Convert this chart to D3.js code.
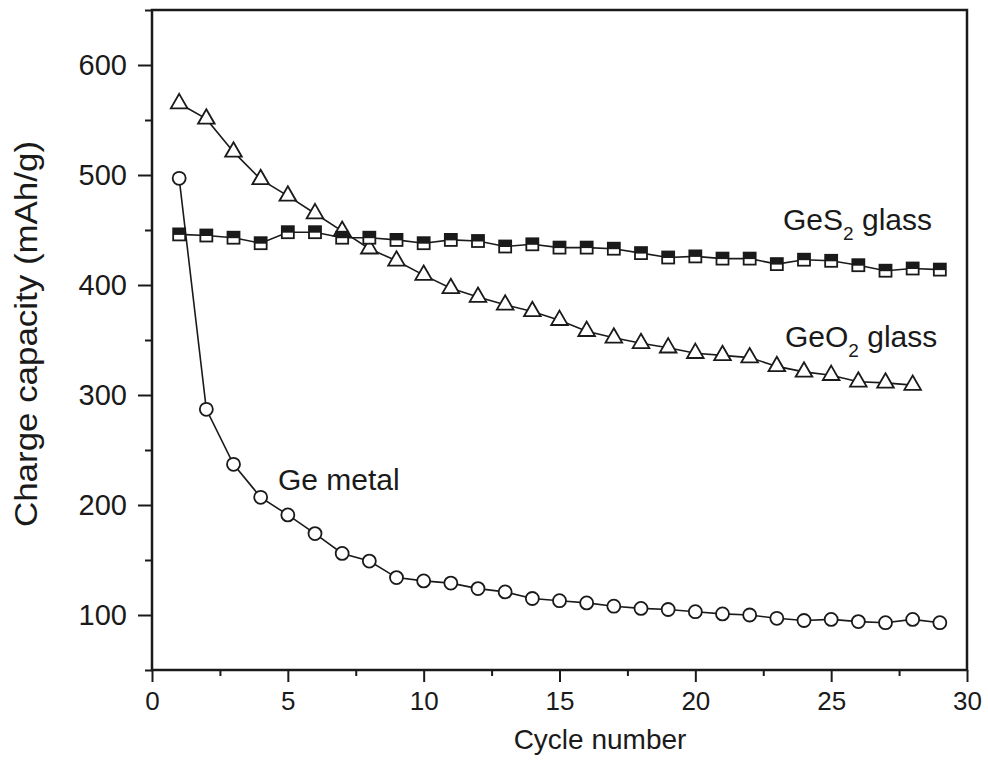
<!DOCTYPE html>
<html>
<head>
<meta charset="utf-8">
<script src="https://cdn.jsdelivr.net/npm/d3@7"></script>
<style>
  body { margin: 0; background: #fff; }
  text { font-family: "Liberation Sans", Arial, sans-serif; fill: #1a1a1a; }
</style>
</head>
<body>
<script>
// cycle numbers
const cycles = d3.range(1, 30);

// charge capacity (mAh/g)
const gemetal = [497, 287, 237, 207, 191, 174, 156, 149, 134, 131, 129, 124, 121, 115, 113,
  111, 108, 106, 105, 103, 101, 100, 97, 95, 96, 94, 93, 96, 93];
const geo2 = [565, 551, 521, 496, 481, 465, 449, 433, 422, 409, 397, 389, 382, 376, 368,
  358, 352, 347, 343, 338, 336, 334, 326, 321, 318, 312, 311, 309];
const ges2 = [446, 445, 443, 438, 448, 448, 443, 443, 441, 438, 441, 440, 435, 437, 434,
  434, 433, 429, 425, 426, 424, 424, 419, 423, 422, 418, 413, 415, 414];

const xTicks = [0, 5, 10, 15, 20, 25, 30];
const yTicks = [100, 200, 300, 400, 500, 600];

const width = 988, height = 762;
const margin = {left: 152, right: 21, top: 10, bottom: 92};

const svg = d3.select("body").append("svg")
  .attr("width", width)
  .attr("height", height);

const x = d3.scaleLinear().domain([0, 30]).range([margin.left, width - margin.right]);
const y = d3.scaleLinear().domain([50, 650]).range([height - margin.bottom, margin.top]);

const ink = "#1a1a1a";

// frame
svg.append("rect")
  .attr("x", x(0)).attr("y", y(650))
  .attr("width", x(30) - x(0)).attr("height", y(50) - y(650))
  .attr("fill", "none").attr("stroke", ink).attr("stroke-width", 2.5);

// x axis
const xAxis = svg.append("g")
  .attr("transform", `translate(0,${y(50)})`)
  .call(d3.axisBottom(x).tickValues(d3.range(0, 30.1, 2.5))
    .tickSize(12).tickPadding(10)
    .tickFormat(d => xTicks.includes(d) ? d : ""));
xAxis.select(".domain").remove();
xAxis.selectAll(".tick line")
  .attr("stroke", ink).attr("stroke-width", 2)
  .attr("y2", d => xTicks.includes(d) ? 12 : 6);
xAxis.selectAll(".tick text")
  .attr("font-size", 26).attr("font-family", "Liberation Sans, Arial, sans-serif")
  .attr("fill", ink);

// y axis
const yAxis = svg.append("g")
  .attr("transform", `translate(${x(0)},0)`)
  .call(d3.axisLeft(y).tickValues(d3.range(50, 651, 50))
    .tickSize(14).tickPadding(11)
    .tickFormat(d => yTicks.includes(d) ? d : ""));
yAxis.select(".domain").remove();
yAxis.selectAll(".tick line")
  .attr("stroke", ink).attr("stroke-width", 2)
  .attr("x2", d => yTicks.includes(d) ? -14 : -7);
yAxis.selectAll(".tick text")
  .attr("font-size", 29).attr("font-family", "Liberation Sans, Arial, sans-serif")
  .attr("fill", ink);

// axis titles
svg.append("text")
  .attr("x", 600).attr("y", 749)
  .attr("text-anchor", "middle").attr("font-size", 28)
  .text("Cycle number");

svg.append("text")
  .attr("transform", `translate(37,334) rotate(-90)`)
  .attr("text-anchor", "middle").attr("font-size", 32)
  .attr("textLength", 386).attr("lengthAdjust", "spacingAndGlyphs")
  .text("Charge capacity (mAh/g)");

// lines
const line = d3.line().x(d => x(d[0])).y(d => y(d[1]));
const series = [
  {name: "metal", vals: gemetal},
  {name: "geo2", vals: geo2},
  {name: "ges2", vals: ges2}
];
series.forEach(s => {
  svg.append("path")
    .datum(s.vals.map((v, i) => [cycles[i], v]))
    .attr("d", line)
    .attr("fill", "none").attr("stroke", ink).attr("stroke-width", 1.6);
});

// markers: circles
svg.append("g").selectAll("circle")
  .data(gemetal)
  .enter().append("circle")
  .attr("cx", (d, i) => x(cycles[i]))
  .attr("cy", d => y(d))
  .attr("r", 6.5)
  .attr("fill", "#fff").attr("stroke", ink).attr("stroke-width", 1.8);

// markers: triangles
const tri = d3.symbol().type(d3.symbolTriangle).size(120);
svg.append("g").selectAll("path")
  .data(geo2)
  .enter().append("path")
  .attr("d", tri)
  .attr("transform", (d, i) => `translate(${x(cycles[i])},${y(d)})`)
  .attr("fill", "#fff").attr("stroke", ink).attr("stroke-width", 1.8);

// markers: half filled squares
const sq = svg.append("g").selectAll("g")
  .data(ges2)
  .enter().append("g")
  .attr("transform", (d, i) => `translate(${x(cycles[i])},${y(d)})`);
sq.append("rect")
  .attr("x", -6).attr("y", -6).attr("width", 12).attr("height", 12)
  .attr("fill", "#fff").attr("stroke", ink).attr("stroke-width", 1.8);
sq.append("rect")
  .attr("x", -6).attr("y", -6).attr("width", 12).attr("height", 6.5)
  .attr("fill", ink);

// labels
function label(px, py, parts) {
  const t = svg.append("text").attr("x", px).attr("y", py).attr("font-size", 30);
  parts.forEach(p => {
    if (p.sub) {
      t.append("tspan").attr("font-size", 19).attr("dy", 10).text(p.t);
    } else {
      t.append("tspan").attr("dy", p.after ? -10 : 0).text(p.t);
    }
  });
}
label(783, 230, [{t: "GeS"}, {t: "2", sub: true}, {t: " glass", after: true}]);
label(785, 347, [{t: "GeO"}, {t: "2", sub: true}, {t: " glass", after: true}]);
label(278, 490, [{t: "Ge metal"}]);
</script>
</body>
</html>
